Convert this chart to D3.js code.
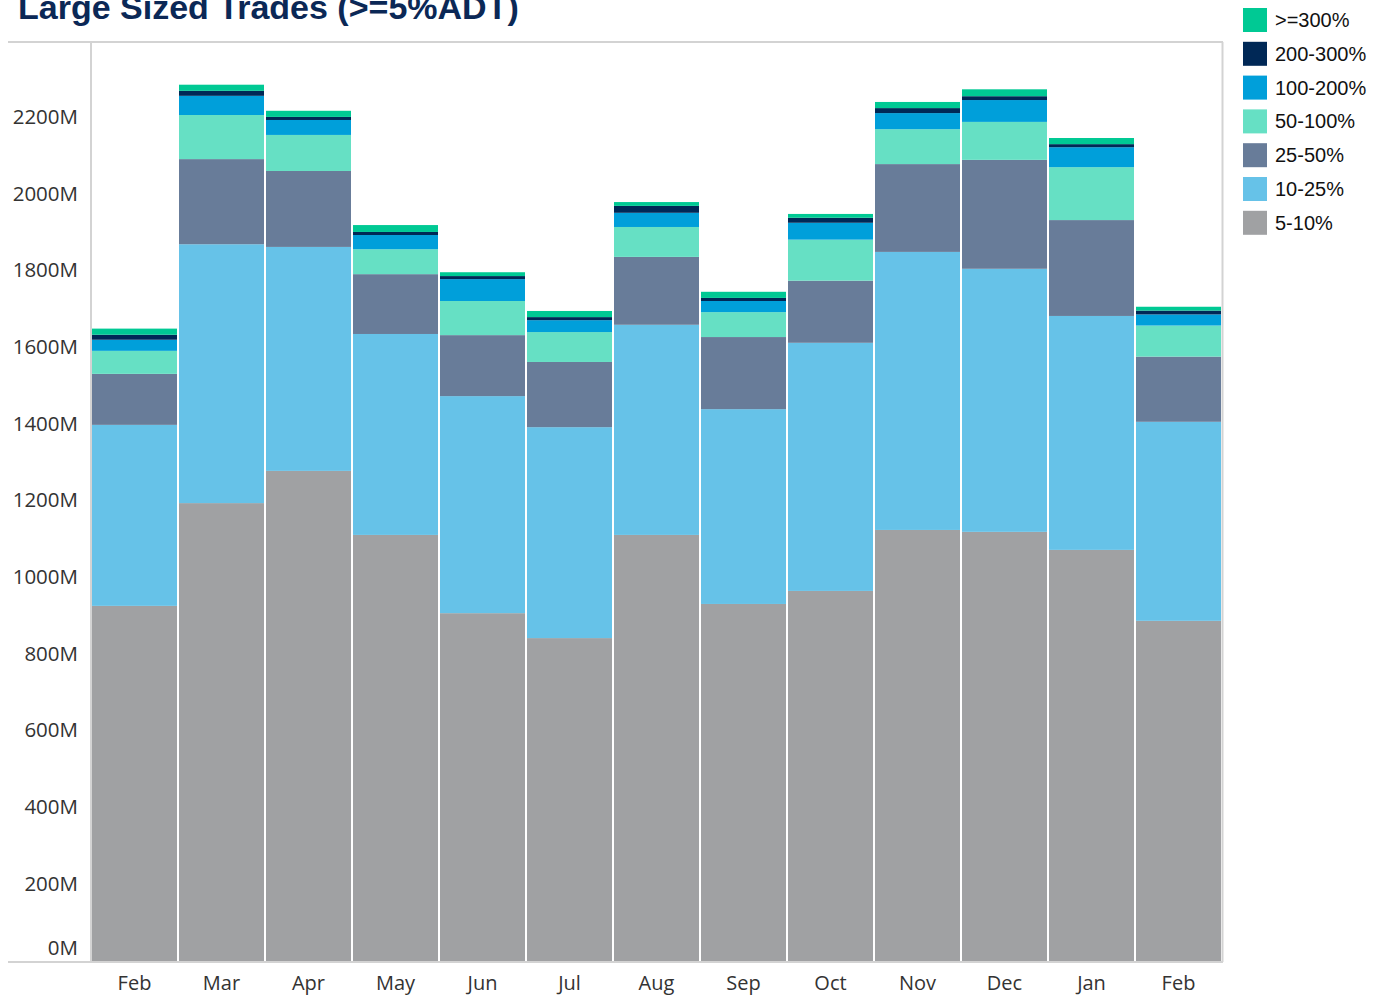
<!DOCTYPE html>
<html><head><meta charset="utf-8">
<script src="https://cdn.jsdelivr.net/npm/d3@7"></script>
<style>body{margin:0;background:#fff;} svg{display:block;}</style>
</head><body>
<svg id="c" width="1382" height="998"></svg>
<script>
const months = ["Feb","Mar","Apr","May","Jun","Jul","Aug","Sep","Oct","Nov","Dec","Jan","Feb"];
const seriesNames = ["5-10%","10-25%","25-50%","50-100%","100-200%","200-300%",">=300%"];
const colors = ["#a0a1a3","#66c2e8","#687c99","#66e0c4","#009fda","#002856","#00c994"];
// values in millions
const s5_10    = [926,1194,1278,1111,907,842,1111,931,965,1124,1119,1072,887];
const s10_25   = [472,675,584,524,566,550,548,508,647,725,686,610,519];
const s25_50   = [133,222,198,156,159,170,177,188,162,229,284,250,170];
const s50_100  = [60,115,94,65,89,78,78,65,107,91,99,138,81];
const s100_200 = [29,50,39,37,57,31,37,29,44,42,57,52,29];
const s200_300 = [13,13,8,8,8,8,18,8,13,13,10,8,10];
const s300     = [16,16,16,18,10,16,10,16,10,16,18,16,10];
const yTicks = [0,200,400,600,800,1000,1200,1400,1600,1800,2000,2200];

(function(){
const seriesVals = [s5_10,s10_25,s25_50,s50_100,s100_200,s200_300,s300];
const rows = months.map((m,i)=>{const r={idx:i,month:m}; seriesNames.forEach((k,j)=>r[k]=seriesVals[j][i]); return r;});
const stack = d3.stack().keys(seriesNames)(rows);

const svg = d3.select("#c");
const pL=91, pR=1222, pT=42, pB=962;
const x = d3.scaleBand().domain(d3.range(months.length)).range([pL,pR]).paddingInner(0).paddingOuter(0);
const y = d3.scaleLinear().domain([0,2200]).range([961,117.3]);

// bars
svg.append("g").selectAll("g").data(stack).join("g")
  .attr("fill",(d,i)=>colors[i])
  .selectAll("rect").data(d=>d).join("rect")
  .attr("x",d=>x(d.data.idx)+1)
  .attr("width",x.bandwidth()-2)
  .attr("y",d=>y(d[1]))
  .attr("height",d=>y(d[0])-y(d[1]));

// frame lines
const lc="#d3d3d3";
svg.append("line").attr("x1",8).attr("x2",pR+1).attr("y1",pT).attr("y2",pT).attr("stroke",lc).attr("stroke-width",2);
svg.append("line").attr("x1",pR+0.5).attr("x2",pR+0.5).attr("y1",pT).attr("y2",pB).attr("stroke",lc).attr("stroke-width",2);
svg.append("line").attr("x1",pL).attr("x2",pL).attr("y1",pT).attr("y2",pB).attr("stroke",lc).attr("stroke-width",2);
svg.append("line").attr("x1",8).attr("x2",pR+1).attr("y1",pB).attr("y2",pB).attr("stroke",lc).attr("stroke-width",2);

// y axis labels
svg.append("g").selectAll("text").data(yTicks).join("text")
  .attr("x",78).attr("y",d=>Math.min(y(d)-1.5,947))
  .attr("text-anchor","end").attr("dominant-baseline","central")
  .attr("font-family","'Open Sans', sans-serif").attr("font-size",20.5).attr("fill","#333")
  .text(d=>d+"M");

// x axis labels
svg.append("g").selectAll("text").data(months).join("text")
  .attr("x",(d,i)=>x(i)+x.bandwidth()/2).attr("y",982.5)
  .attr("text-anchor","middle").attr("dominant-baseline","central")
  .attr("font-family","'Open Sans', sans-serif").attr("font-size",20).attr("fill","#333")
  .text(d=>d);

// title
svg.append("text").attr("x",18).attr("y",19)
  .attr("font-family","'Liberation Sans', Arial, sans-serif").attr("font-weight","bold")
  .attr("font-size",34).attr("fill","#0b2856").text("Large Sized Trades (>=5%ADT)");

// legend
const legOrder = seriesNames.slice().reverse();
const lg = svg.append("g").selectAll("g").data(legOrder).join("g")
  .attr("transform",(d,i)=>`translate(1243,${8+i*33.8})`);
lg.append("rect").attr("width",24).attr("height",24).attr("fill",d=>colors[seriesNames.indexOf(d)]);
lg.append("text").attr("x",32).attr("y",12).attr("dominant-baseline","central")
  .attr("font-family","'Liberation Sans', Arial, sans-serif").attr("font-size",20).attr("fill","#111")
  .text(d=>d);
})();
</script>
</body></html>
